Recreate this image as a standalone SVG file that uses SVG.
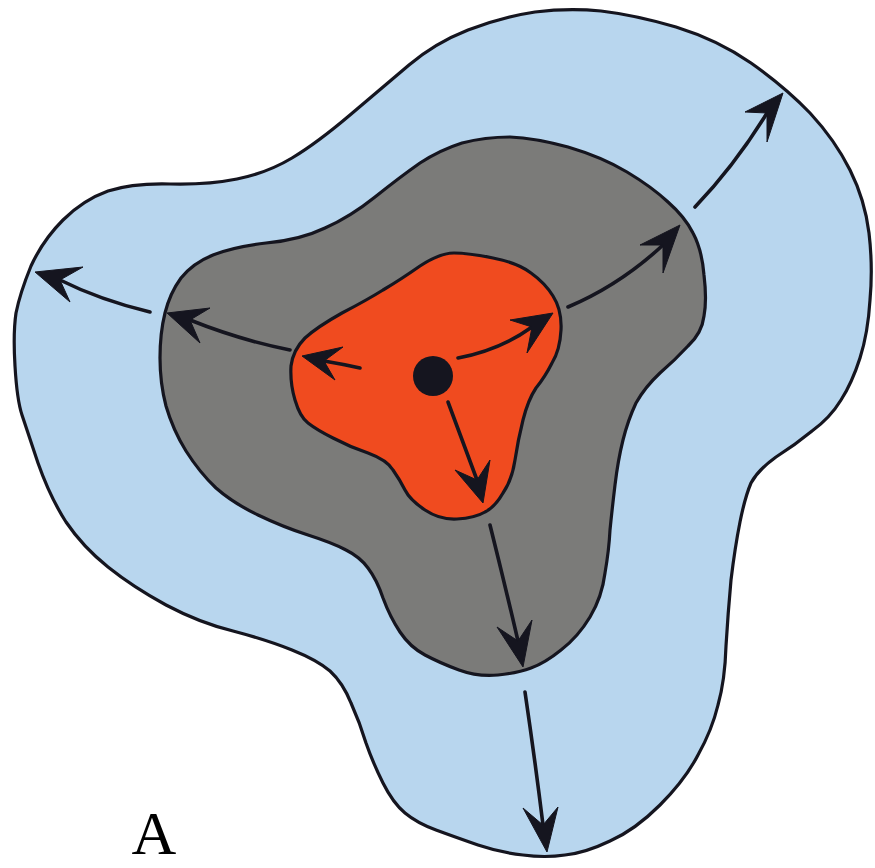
<svg xmlns="http://www.w3.org/2000/svg" width="875" height="868" viewBox="0 0 875 868">
<style>
.zone{stroke:#15151f;stroke-width:3.2;stroke-linejoin:round}
.shaft{fill:none;stroke:#15151f;stroke-width:3.6;stroke-linecap:round}
.head{fill:#15151f;stroke:#15151f;stroke-width:1;stroke-linejoin:miter}
</style>
<rect width="875" height="868" fill="#ffffff"/>
<g id="outer-zone">
<path class="zone" fill="#b8d6ee" d="M468,30 Q502,17 535,12 Q568,8 601,11 Q635,15 676,27 Q718,40 751,63 Q785,87 810,113 Q835,140 850,170 Q865,200 869,233 Q873,267 870,300 Q868,333 860,358 Q852,383 841,400 Q830,418 812,431 Q795,445 776,457 Q758,470 751,483 Q745,497 740,522 Q735,547 731,580 Q728,613 726,646 Q725,680 718,705 Q712,730 698,755 Q685,780 660,805 Q635,830 610,841 Q585,853 565,855 Q545,858 523,855 Q502,853 478,845 Q455,837 436,830 Q417,823 405,813 Q393,803 383,783 Q373,763 366,743 Q360,723 351,703 Q343,683 330,671 Q317,660 292,650 Q267,640 233,631 Q200,623 166,605 Q133,587 108,567 Q83,547 66,522 Q50,497 38,463 Q27,430 22,415 Q17,400 15,366 Q13,333 16,313 Q20,293 31,266 Q43,240 63,220 Q83,200 108,191 Q133,183 170,184 Q207,185 237,179 Q267,173 292,158 Q317,143 350,115 Q383,87 409,65 Q435,43 468,30 Z"/>
</g>
<g id="middle-zone">
<path class="zone" fill="#7b7b79" d="M510,137 Q535,138 568,147 Q602,157 627,172 Q652,187 668,202 Q685,217 693,233 Q702,250 704,275 Q707,300 704,316 Q702,333 688,346 Q675,360 660,373 Q645,387 636,403 Q628,420 623,440 Q618,460 615,485 Q612,510 610,530 Q609,550 605,573 Q602,597 590,617 Q578,637 561,650 Q545,663 531,668 Q518,673 498,675 Q478,677 459,670 Q440,663 425,655 Q410,647 400,632 Q390,617 383,598 Q377,580 368,568 Q360,557 346,550 Q333,543 308,535 Q283,527 258,515 Q233,503 216,488 Q200,473 186,451 Q173,430 166,406 Q160,383 160,358 Q160,333 165,313 Q170,293 181,278 Q193,263 213,255 Q233,247 266,243 Q300,240 325,228 Q350,217 375,197 Q400,177 420,163 Q440,150 462,143 Q485,137 510,137 Z"/>
</g>
<g id="core-zone">
<path class="zone" fill="#f04b1f" d="M493,258 Q518,263 531,273 Q545,283 553,296 Q562,310 561,330 Q560,350 552,363 Q545,377 536,388 Q528,400 523,420 Q518,440 515,460 Q512,480 503,493 Q495,507 485,512 Q475,518 457,519 Q440,520 425,510 Q410,500 405,490 Q400,480 393,470 Q387,460 368,453 Q350,447 333,438 Q317,430 308,423 Q300,417 295,400 Q290,383 291,366 Q293,350 305,338 Q317,327 342,313 Q367,300 383,290 Q400,280 420,266 Q440,253 454,253 Q468,253 493,258 Z"/>
</g>
<g id="source">
<circle cx="433" cy="376" r="20" fill="#15151f"/>
</g>
<g id="connectors">
<path class="shaft" d="M360,368 Q342,364 324,361"/>
<polygon class="head" points="302,356 343,347 324,361 335,380"/>
<path class="shaft" d="M458,358 Q500,350 532,327"/>
<polygon class="head" points="553,313 510,320 532,327 527,353"/>
<path class="shaft" d="M448,402 Q462,440 477,480"/>
<polygon class="head" points="483,503 455,470 477,480 490,460"/>
<path class="shaft" d="M290,350 Q240,340 190,320"/>
<polygon class="head" points="167,313 210,308 190,320 200,343"/>
<path class="shaft" d="M150,312 Q100,300 60,280"/>
<polygon class="head" points="35,272 83,267 60,280 70,302"/>
<path class="shaft" d="M568,307 Q620,285 663,245"/>
<polygon class="head" points="680,225 640,245 663,245 663,273"/>
<path class="shaft" d="M695,207 Q735,165 767,113"/>
<polygon class="head" points="783,93 745,112 767,113 767,142"/>
<path class="shaft" d="M490,525 Q505,585 518,641"/>
<polygon class="head" points="523,667 497,627 518,641 532,620"/>
<path class="shaft" d="M525,692 Q535,760 543,825"/>
<polygon class="head" points="547,852 523,808 543,825 558,807"/>
</g>
<text x="154" y="854" font-family="Liberation Serif, serif" font-size="62" text-anchor="middle" fill="#000000">A</text>
</svg>
